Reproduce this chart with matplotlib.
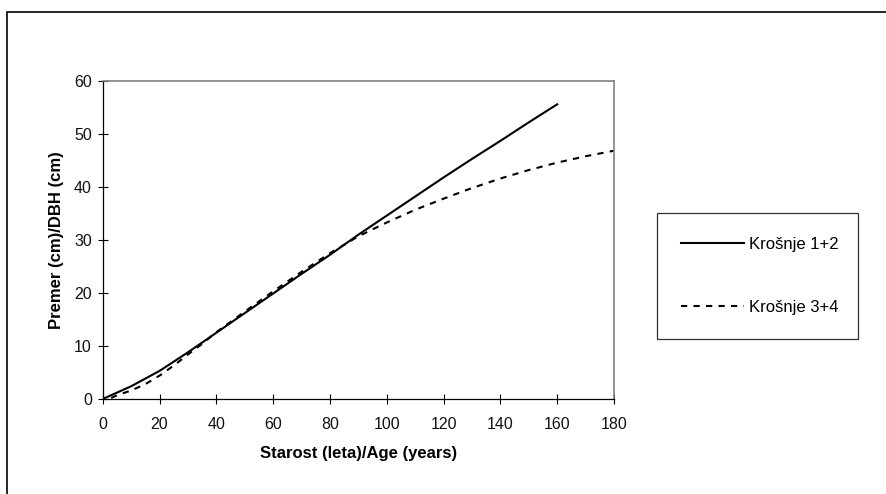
import matplotlib
matplotlib.use("Agg")
import matplotlib.pyplot as plt
from matplotlib.patches import Rectangle

plt.rcParams['font.family'] = ['Liberation Sans', 'DejaVu Sans']

# Krošnje 1+2 (solid)
age_12 = [0, 10, 20, 30, 40, 50, 60, 70, 80, 90, 100, 110, 120, 130, 140, 150, 160]
dbh_12 = [0, 2.4, 5.3, 8.8, 12.5, 16.2, 19.9, 23.6, 27.2, 31.0, 34.6, 38.2, 41.8, 45.3, 48.7, 52.2, 55.6]

# Krošnje 3+4 (dashed)
age_34 = [3, 5, 10, 15, 20, 25, 30, 35, 40, 50, 60, 70, 80, 90, 100, 110, 120, 130, 140, 150, 160, 170, 180]
dbh_34 = [0.2, 0.7, 1.6, 2.8, 4.4, 6.3, 8.4, 10.4, 12.6, 16.5, 20.3, 24.0, 27.5, 30.7, 33.3, 35.7, 37.8, 39.8, 41.6, 43.2, 44.6, 45.8, 46.85]

series_labels = ['Krošnje 1+2', 'Krošnje 3+4']
x_ticks = [0, 20, 40, 60, 80, 100, 120, 140, 160, 180]
y_ticks = [0, 10, 20, 30, 40, 50, 60]
x_label = 'Starost (leta)/Age (years)'
y_label = 'Premer (cm)/DBH (cm)'

W, H = 887, 494
fig = plt.figure(figsize=(W / 100, H / 100), dpi=100)

# plot area in pixels
L, R, T, B = 102.7, 614.0, 81.0, 399.0
ax = fig.add_axes([L / W, 1 - B / H, (R - L) / W, (B - T) / H])

ax.plot(age_12, dbh_12, color='black', lw=1.5, solid_joinstyle='round', label=series_labels[0])
ax.plot(age_34, dbh_34, color='black', lw=1.5, linestyle=(0, (3, 3)), label=series_labels[1])

ax.set_xlim(0, 180)
ax.set_ylim(0, 60)
ax.set_xticks(x_ticks)
ax.set_yticks(y_ticks)

for s in ['top', 'right']:
    ax.spines[s].set_color('#808080')
    ax.spines[s].set_linewidth(1.2)
for s in ['left', 'bottom']:
    ax.spines[s].set_color('black')
    ax.spines[s].set_linewidth(0.9)

TICK_FS = 11.5
LABEL_FS = 12
ax.tick_params(axis='both', direction='inout', length=7.5, width=0.8, color='black',
               labelsize=TICK_FS, labelcolor='#111111')
ax.tick_params(axis='x', pad=9)
ax.tick_params(axis='y', pad=4)

ax.set_xlabel(x_label, fontsize=LABEL_FS, fontweight='bold', labelpad=10)
ax.set_ylabel(y_label, fontsize=LABEL_FS, fontweight='bold', labelpad=7.5)

fs_px = LABEL_FS * 100 / 72
lx0, ly0, lx1, ly1 = 657.3, 212.7, 857.7, 339.3
leg = fig.legend(loc='lower left',
                 bbox_to_anchor=(lx0 / W, 1 - ly1 / H, (lx1 - lx0) / W, (ly1 - ly0) / H),
                 mode='expand', borderaxespad=0, fontsize=LABEL_FS,
                 handlelength=63 / fs_px, handletextpad=5 / fs_px,
                 borderpad=1.45, labelspacing=2.87, fancybox=False, frameon=True)
leg.get_frame().set_edgecolor('black')
leg.get_frame().set_linewidth(0.9)

# outer chart border (clipped by figure edges at right and bottom)
fig.add_artist(Rectangle((7.3 / W, -0.1), 2.0, 1.1 - 12.3 / H, transform=fig.transFigure,
                         fill=False, edgecolor='black', linewidth=1.2, clip_on=False))

fig.savefig('out.png', dpi=100)
